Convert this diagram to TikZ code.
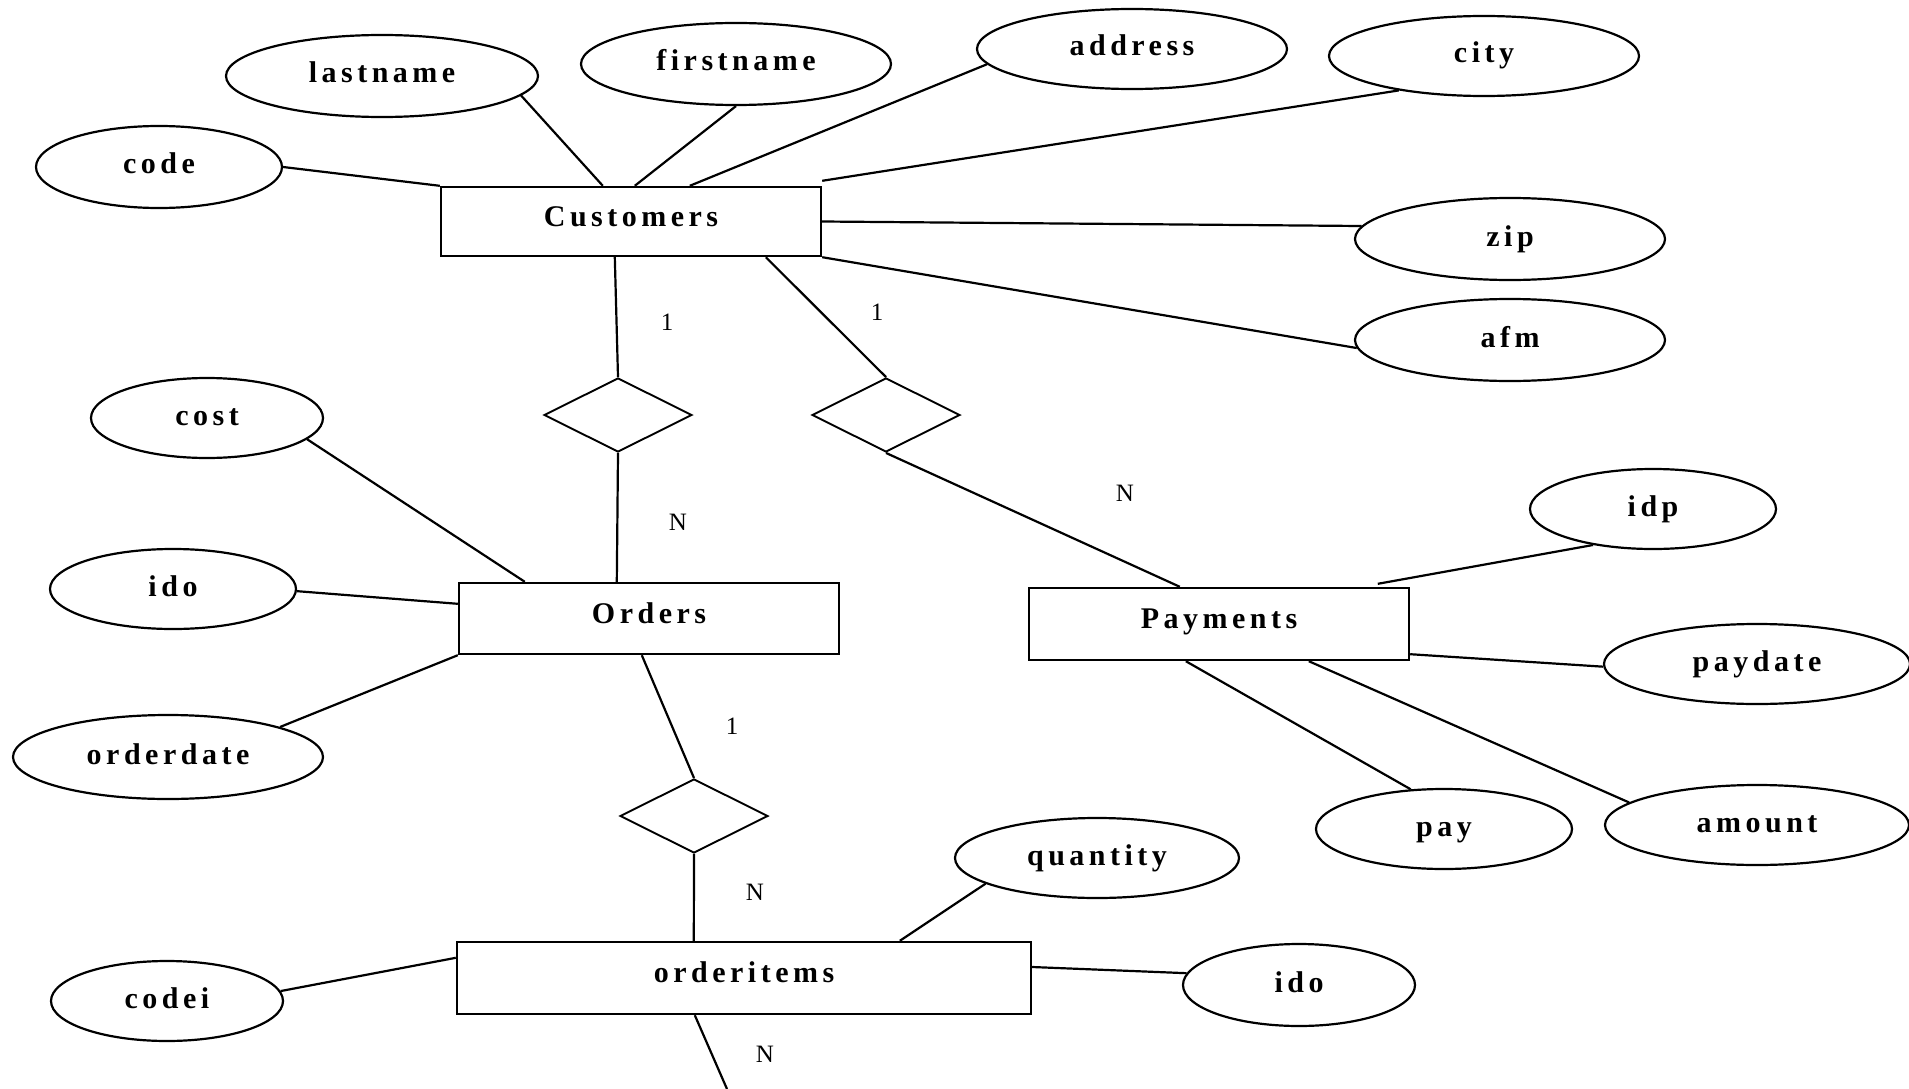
\documentclass[tikz,border=0pt]{standalone}
\usepackage{fontspec}
\setmainfont{Liberation Serif}
\newfontfamily\attrfont[LetterSpace=15]{Liberation Serif Bold}
\usetikzlibrary{shapes.geometric}
\begin{document}
\begin{tikzpicture}[x=1pt,y=-1pt,
  attr/.style={ellipse,draw,line width=2.2pt,inner sep=0pt,
    font=\attrfont\fontsize{30}{35}\selectfont,text height=20pt,text depth=6pt},
  ent/.style={rectangle,draw,line width=2.4pt,inner sep=0pt,minimum width=380pt,
    font=\attrfont\fontsize{30}{35}\selectfont,text height=20pt,text depth=11pt},
  rel/.style={diamond,draw,line width=1.9pt,inner sep=0pt,minimum width=148pt,minimum height=74pt},
  conn/.style={line width=2.2pt},
  card/.style={font=\fontsize{25}{30}\selectfont,inner sep=0pt}]
\useasboundingbox (0,0) rectangle (1909,1089);

% entities
\node[ent,minimum height=69pt] (cust) at (631,221.5) {Customers};
\node[ent,minimum height=71pt] (ord) at (649,618.5) {Orders};
\node[ent,minimum height=72pt] (pay) at (1219,624) {Payments};
\node[ent,minimum width=574pt,minimum height=72pt] (oi) at (744,978) {orderitems};

% relationships
\node[rel] (d1) at (618,415) {};
\node[rel] (d2) at (886,415) {};
\node[rel] (d3) at (694,816) {};

% attributes
\node[attr,minimum width=246pt,minimum height=82pt] (code) at (159,167) {code};
\node[attr,minimum width=312pt,minimum height=82pt] (lastname) at (382,76) {lastname};
\node[attr,minimum width=310pt,minimum height=82pt] (firstname) at (736,64) {firstname};
\node[attr,minimum width=310pt,minimum height=80pt] (address) at (1132,49) {address};
\node[attr,minimum width=310pt,minimum height=80pt] (city) at (1484,56) {city};
\node[attr,minimum width=310pt,minimum height=82pt] (zip) at (1510,239) {zip};
\node[attr,minimum width=310pt,minimum height=82pt] (afm) at (1510,340) {afm};
\node[attr,minimum width=232pt,minimum height=80pt] (cost) at (207,418) {cost};
\node[attr,minimum width=246pt,minimum height=80pt] (idoL) at (173,589) {ido};
\node[attr,minimum width=310pt,minimum height=84pt] (orderdate) at (168,757) {orderdate};
\node[attr,minimum width=246pt,minimum height=80pt] (idp) at (1653,509) {idp};
\node[attr,minimum width=306pt,minimum height=80pt] (paydate) at (1757,664) {paydate};
\node[attr,minimum width=256pt,minimum height=80pt] (payA) at (1444,829) {pay};
\node[attr,minimum width=304pt,minimum height=80pt] (amount) at (1757,825) {amount};
\node[attr,minimum width=284pt,minimum height=80pt] (quantity) at (1097,858) {quantity};
\node[attr,minimum width=232pt,minimum height=82pt] (idoR) at (1299,985) {ido};
\node[attr,minimum width=232pt,minimum height=80pt] (codei) at (167,1001) {codei};

\coordinate (bottom) at (727,1089);

% Customers attributes
\draw[conn] (code.east) -- (cust.north west);
\draw[conn] (lastname.-8.8) -- ([xshift=163pt]cust.north west);
\draw[conn] (firstname.south) -- ([xshift=195pt]cust.north west);
\draw[conn] (address.186.8) -- ([xshift=250pt]cust.north west);
\draw[conn] (city.202) -- ([yshift=5pt]cust.north east);
\draw[conn] (zip.175.2) -- (cust.east);
\draw[conn] (afm.183.3) -- (cust.south east);

% relationships
\draw[conn] ([xshift=175pt]cust.south west) -- (d1.north);
\draw[conn] ([xshift=326pt]cust.south west) -- (d2.north);
\draw[conn] (d1.south) -- ([xshift=159pt]ord.north west);
\draw[conn] (d2.south) -- ([xshift=152pt]pay.north west);
\draw[conn] ([xshift=184pt]ord.south west) -- (d3.north);
\draw[conn] (d3.south) -- ([xshift=238pt]oi.north west);
\draw[conn] ([xshift=239pt]oi.south west) -- (bottom);

% Orders attributes
\draw[conn] (cost.-12.8) -- ([xshift=67pt]ord.north west);
\draw[conn] (idoL.-1.4) -- ([yshift=-22pt]ord.north west);
\draw[conn] (orderdate.15.7) -- (ord.south west);

% orderitems attributes
\draw[conn] (quantity.193.6) -- ([xshift=444pt]oi.north west);
\draw[conn] (idoR.174.6) -- ([yshift=11pt]oi.east);
\draw[conn] (codei.5.9) -- ([yshift=-17pt]oi.north west);

% Payments attributes
\draw[conn] ([xshift=350pt,yshift=3pt]pay.north west) -- (idp.211.5);
\draw[conn] ([yshift=7pt]pay.south east) -- (paydate.181.5);
\draw[conn] ([xshift=158pt]pay.south west) -- (payA.130);
\draw[conn] ([xshift=281pt]pay.south west) -- (amount.170);

% cardinalities
\node[card] (c1) at (667,322) {1};
\node[card] (c2) at (877,312) {1};
\node[card] (c3) at (678,522) {N};
\node[card] (c4) at (1125,493) {N};
\node[card] (c5) at (732,726) {1};
\node[card] (c6) at (755,892) {N};
\node[card] (c7) at (765,1054) {N};
\end{tikzpicture}
\end{document}
